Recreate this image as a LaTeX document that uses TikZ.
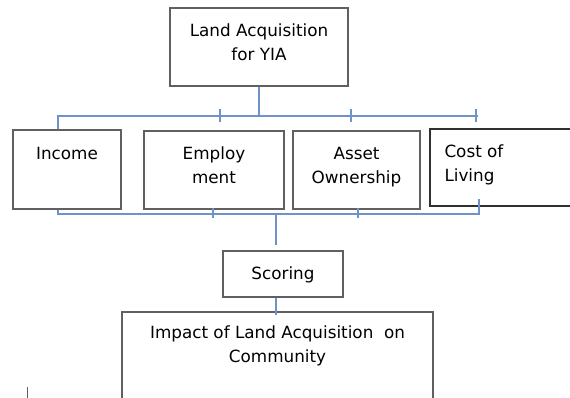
\documentclass[tikz,border=0pt]{standalone}
\usepackage{fontspec}
\setmainfont{DejaVu Sans}
\definecolor{linkblue}{RGB}{112,146,202}
\definecolor{boxgray}{RGB}{96,96,96}
\definecolor{boxdark}{RGB}{48,48,48}

\begin{document}
\begin{tikzpicture}[x=1pt,y=-1pt,
    box/.style={draw=boxgray,line width=1.4pt,inner sep=0pt},
    txt/.style={font=\fontsize{16.8}{24}\selectfont,align=center,anchor=base,inner sep=0pt},
    link/.style={draw=linkblue,line width=1.6pt}]
    \useasboundingbox (0,0) rectangle (570,398);
    \clip (0,0) rectangle (570,398);

    % Boxes (label base sits on the last line)
    \node at (259,47) [box,minimum width=178pt,minimum height=78pt,
      label={[txt,yshift=-53pt]north:Land Acquisition\\for YIA}] (yia) {};
    \node at (67,169.5) [box,minimum width=108pt,minimum height=79pt,
      label={[txt,yshift=-30pt]north:Income}] (income) {};
    \node at (214,170) [box,minimum width=140pt,minimum height=78pt,
      label={[txt,yshift=-53pt]north:Employ\\ment}] (employ) {};
    \node at (356.5,170) [box,minimum width=127pt,minimum height=78pt,
      label={[txt,yshift=-53pt]north:Asset\\Ownership}] (asset) {};
    \node at (507.5,167.5) [box,draw=boxdark,minimum width=155pt,minimum height=77pt,
      label={[txt,align=left,anchor=base west,xshift=15pt,yshift=-53pt]north west:Cost of\\Living}] (cost) {};
    \node at (283,274) [box,minimum width=120pt,minimum height=46pt,
      label={[txt,yshift=-29pt]north:Scoring}] (scoring) {};
    \node at (277.5,361) [box,minimum width=311pt,minimum height=98pt,
      label={[txt,yshift=-51pt]north:Impact of Land Acquisition\ \ on\\Community}] (impact) {};

    % Upper bus
    \coordinate (tbl) at (58,116);
    \coordinate (tbr) at (478,116);
    \draw[link] (yia.south) -- (yia.south |- tbl);
    \draw[link] (income.north -| tbl) -- (tbl) -- (tbr);
    \foreach \x in {220,351,476}
      \draw[link] (\x,109) -- (\x,122);

    % Lower bus
    \coordinate (bbl) at (58,214);
    \coordinate (bbr) at (479,214);
    \coordinate (bbm) at (276,214);
    \coordinate (costin) at (479,199);
    \coordinate (scorein) at (276,245);
    \draw[link] (income.south -| bbl) -- (bbl) -- (bbr) -- (costin);
    \foreach \x in {213,358}
      \draw[link] (\x,208) -- (\x,218);
    \draw[link] (bbm) -- (scorein);
    \draw[link] (scoring.south -| bbm) -- (impact.north -| bbm) -- ++(0,4);

    % stray mark
    \draw[boxgray,line width=0.9pt] (27,387) -- (27,398);
\end{tikzpicture}
\end{document}
